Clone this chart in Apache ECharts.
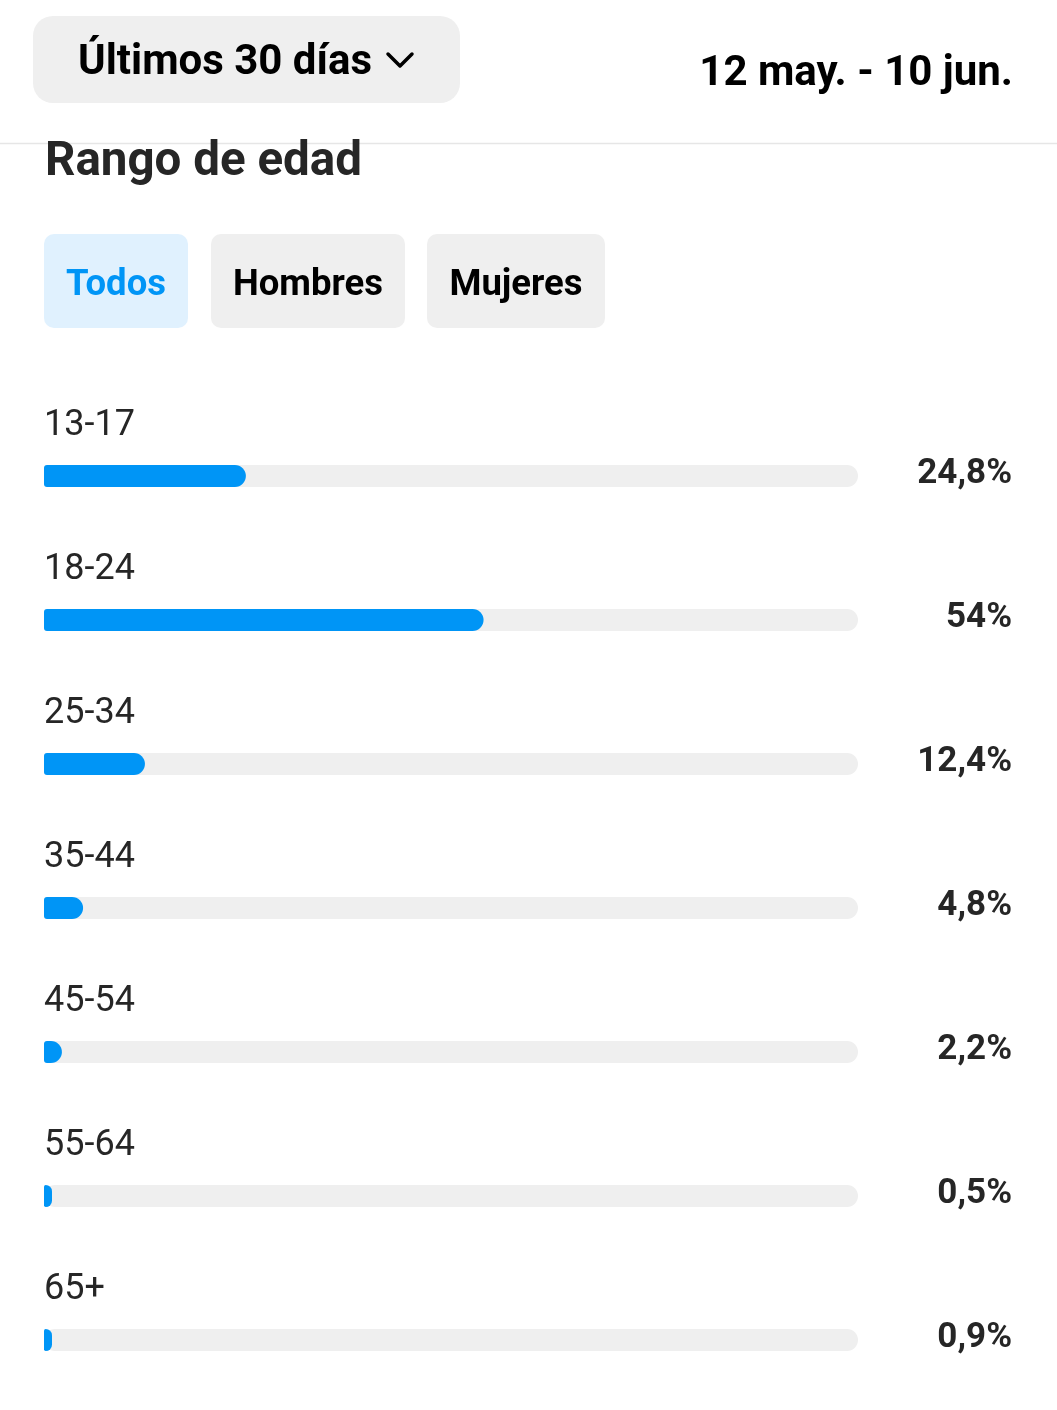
<!DOCTYPE html>
<html>
<head>
<meta charset="utf-8">
<style>
  html, body { margin: 0; padding: 0; background: #ffffff; overflow: hidden; }
  #chart { width: 1057px; height: 1410px; }
</style>
<script src="https://cdn.jsdelivr.net/npm/echarts@6/dist/echarts.min.js"></script>
</head>
<body>
<div id="chart"></div>
<script>
const categories = ['13-17', '18-24', '25-34', '35-44', '45-54', '55-64', '65+'];
const values = [24.8, 54, 12.4, 4.8, 2.2, 0.5, 0.9];
const valueLabels = ['24,8%', '54%', '12,4%', '4,8%', '2,2%', '0,5%', '0,9%'];
const tabs = ['Todos', 'Hombres', 'Mujeres'];
const periodLabel = 'Últimos 30 días';
const dateRange = '12 may. - 10 jun.';
const title = 'Rango de edad';

const FONT = 'Roboto, "Noto Sans", sans-serif';
const chart = echarts.init(document.getElementById('chart'), null, { renderer: 'canvas', width: 1057, height: 1410 });

const tabBoxes = [
  { x: 44, w: 144, fill: '#e0f1fe', color: '#0095f6' },
  { x: 211, w: 194, fill: '#efefef', color: '#000000' },
  { x: 427, w: 178, fill: '#efefef', color: '#000000' }
];

const graphics = [
  { type: 'rect', shape: { x: 33, y: 16, width: 427, height: 87, r: 20 }, style: { fill: '#efefef' } },
  { type: 'text', x: 78, y: 63, style: { text: periodLabel, font: 'bold 42px ' + FONT, fill: '#000000', verticalAlign: 'middle', align: 'left' } },
  { type: 'polyline', shape: { points: [[388, 54], [400, 66], [412, 54]] }, style: { stroke: '#000000', lineWidth: 3.5, fill: null, lineCap: 'round', lineJoin: 'round' } },
  { type: 'text', x: 1013, y: 74, style: { text: dateRange, font: 'bold 42px ' + FONT, fill: '#000000', verticalAlign: 'middle', align: 'right' } },
  { type: 'line', shape: { x1: 0, y1: 143.5, x2: 1057, y2: 143.5 }, style: { stroke: '#e6e6e6', lineWidth: 1.5 } },
  { type: 'text', x: 45, y: 163, style: { text: title, font: 'bold 47.5px ' + FONT, fill: '#262626', verticalAlign: 'middle', align: 'left' } }
];
tabs.forEach((t, i) => {
  const b = tabBoxes[i];
  graphics.push({ type: 'rect', shape: { x: b.x, y: 234, width: b.w, height: 94, r: 10 }, style: { fill: b.fill } });
  graphics.push({ type: 'text', x: b.x + b.w / 2, y: 286, style: { text: t, font: 'bold 36.5px ' + FONT, fill: b.color, align: 'center', verticalAlign: 'middle' } });
});

chart.setOption({
  animation: false,
  backgroundColor: '#ffffff',
  graphic: graphics,
  grid: { left: 44, width: 814, top: 476, height: 870, containLabel: false },
  xAxis: {
    type: 'value', min: 0, max: 100,
    show: false
  },
  yAxis: [
    {
      type: 'category', data: categories, inverse: true, position: 'left', boundaryGap: false,
      axisLine: { show: false }, axisTick: { show: false }, splitLine: { show: false },
      axisLabel: {
        inside: true, margin: 0, align: 'left', verticalAlign: 'middle',
        showMinLabel: true, showMaxLabel: true, interval: 0, hideOverlap: false,
        formatter: v => '{a|' + v + '}\n{b| }',
        rich: {
          a: { fontFamily: FONT, fontSize: 36, lineHeight: 40, color: '#262626' },
          b: { fontSize: 10, lineHeight: 100, height: 100 }
        }
      }
    },
    {
      type: 'category', data: categories, inverse: true, position: 'right', boundaryGap: false,
      axisLine: { show: false }, axisTick: { show: false }, splitLine: { show: false },
      axisLabel: {
        margin: 154, align: 'right', verticalAlign: 'middle',
        showMinLabel: true, showMaxLabel: true, interval: 0,
        formatter: (v, i) => '{a|' + valueLabels[i] + '}\n{b| }',
        rich: {
          a: { fontFamily: FONT, fontSize: 35, fontWeight: 'bold', lineHeight: 40, color: '#262626', align: 'right' },
          b: { fontSize: 4, lineHeight: 4, height: 4 }
        }
      }
    }
  ],
  series: [{
    type: 'bar',
    data: values,
    yAxisIndex: 0,
    barWidth: 22,
    barMinHeight: 8,
    showBackground: true,
    backgroundStyle: { color: '#efefef', borderRadius: 11 },
    itemStyle: { color: '#0095f6', borderRadius: [3, 11, 11, 3] },
    silent: true
  }]
});
</script>
</body>
</html>
